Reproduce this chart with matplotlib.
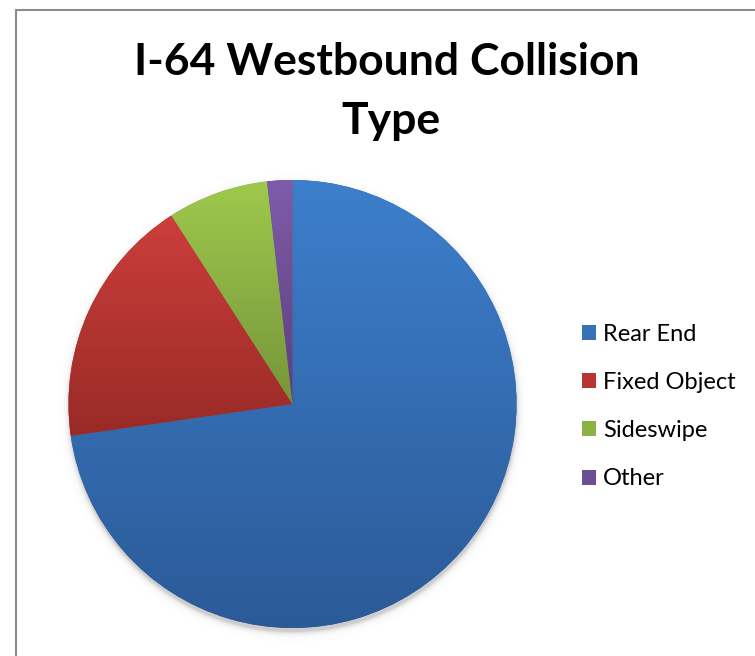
import numpy as np
import matplotlib.pyplot as plt
from matplotlib.colors import to_rgb
from matplotlib.patches import Patch

# collision counts by type
labels = ['Rear End', 'Fixed Object', 'Sideswipe', 'Other']
counts = [40, 10, 4, 1]

# each slice is filled with a light-to-dark vertical gradient
top_colors = ['#3d7fcc', '#cc3e3b', '#9ec94d', '#7f5ca9']
bottom_colors = ['#2b5a97', '#992a27', '#76953a', '#5b3e7f']
legend_colors = ['#3572b8', '#b83531', '#8cb144', '#6c4e94']

W, H = 755, 656
fig = plt.figure(figsize=(W / 100, H / 100), dpi=100)
ax = fig.add_axes([0, 0, 1, 1])

cx, cy, r = 292.5, H - 404, 224

# soft shadow under the pie
gx = np.arange(cx - r - 20, cx + r + 20, 1.0)
gy = np.arange(cy - r - 20, cy + r + 20, 1.0)
X, Y = np.meshgrid(gx, gy)
d = np.hypot(X - cx, Y - (cy - 4))
shade = np.zeros(X.shape + (4,))
shade[..., :3] = 0.45
shade[..., 3] = 0.35 * np.exp(-np.clip(d - r, 0, None) / 2.5)
ax.imshow(shade, extent=(gx[0], gx[-1], gy[0], gy[-1]), origin='lower',
          interpolation='bilinear', zorder=0)

wedges, _ = ax.pie(counts, startangle=90, counterclock=False, radius=r,
                   center=(cx, cy), colors=bottom_colors,
                   wedgeprops=dict(linewidth=0))

for w, c0, c1 in zip(wedges, top_colors, bottom_colors):
    w.set_zorder(1)
    pts = w.get_patch_transform().transform(w.get_path().vertices)
    x0, y0 = pts.min(axis=0)
    x1, y1 = pts.max(axis=0)
    t = np.linspace(0, 1, 256)[:, None]
    grad = (1 - t) * np.array(to_rgb(c0)) + t * np.array(to_rgb(c1))
    im = ax.imshow(grad[:, None, :], extent=(x0, x1, y0, y1), origin='upper',
                   interpolation='bilinear', aspect='auto', zorder=2)
    im.set_clip_path(w)

ax.set_xlim(0, W)
ax.set_ylim(0, H)
ax.set_aspect('auto')
ax.axis('off')

# chart area frame
ax.plot([15.5, 15.5, W], [0, H - 9.5, H - 9.5], color='#8c8c8c', lw=1.5,
        solid_joinstyle='miter', zorder=5)

title_font = dict(family='Lato', weight='bold', fontsize=32)
fig.text(387 / W, 1 - 75 / H, 'I-64 Westbound Collision',
         ha='center', va='baseline', **title_font)
fig.text(391 / W, 1 - 134 / H, 'Type',
         ha='center', va='baseline', **title_font)

handles = [Patch(facecolor=c, edgecolor='none') for c in legend_colors]
ax.legend(handles, labels, loc='upper left',
          bbox_to_anchor=(582 / W, 1 - 324 / H), bbox_transform=fig.transFigure,
          frameon=False, prop=dict(family='Lato', size=17),
          handlelength=0.6, handleheight=0.6, handletextpad=0.3,
          labelspacing=1.15, borderpad=0, borderaxespad=0)

fig.savefig('out.png', dpi=100)
